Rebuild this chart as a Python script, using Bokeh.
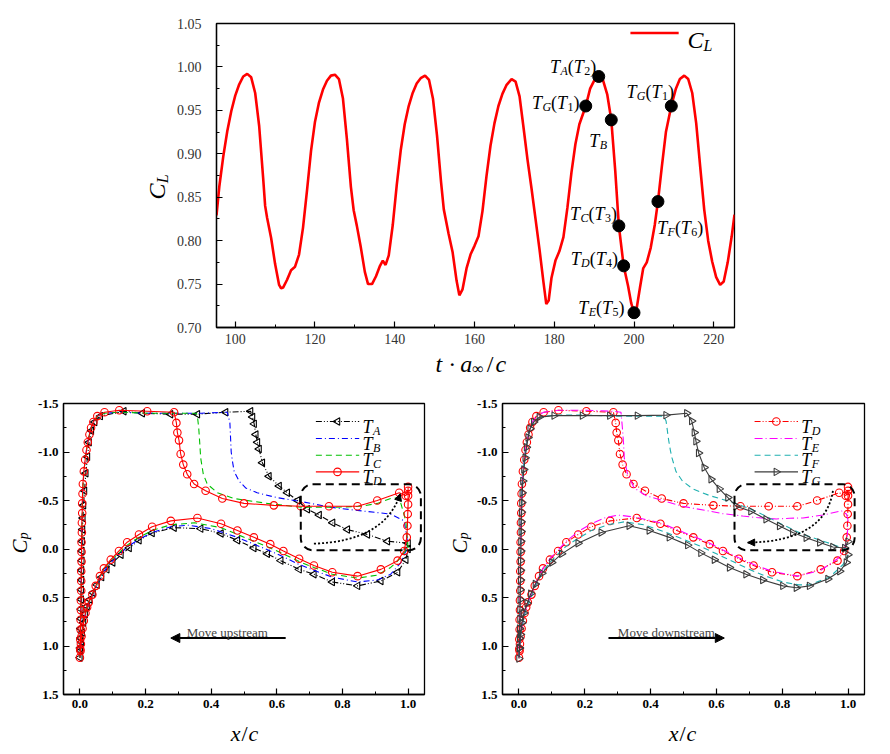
import math
from bokeh.plotting import figure
from bokeh.models import (Range1d, Label, Arrow, NormalHead, BoxAnnotation,
                          FixedTicker, NumeralTickFormatter)
from bokeh.layouts import column, row
from bokeh.embed import file_html
from bokeh.resources import INLINE

# ---------------- data: lift coefficient history ----------------
cl_t = [95.3, 96, 97, 98, 99, 100, 101, 102, 103, 104,
        105, 106, 107, 107.5, 108, 109, 110, 111, 111.5, 112,
        113, 114, 115, 116, 117, 118, 119, 120, 121, 122,
        123, 124, 125, 126, 127, 128, 129, 129.7, 130.5, 131.5,
        132.5, 133.3, 134.3, 135.3, 136.3, 137, 137.7, 138.5, 139.5, 140.5,
        141.5, 142.5, 143.5, 144.5, 145.5, 146.5, 147.6, 148.6, 149.6, 150.6,
        151.6, 152.3, 153.5, 154.5, 155.5, 156.2, 157, 158, 159, 160,
        161, 162, 163, 164, 165, 166, 167, 168, 169.3, 170.3,
        171.3, 172.3, 173.3, 174.3, 175.3, 176.3, 177.3, 178, 178.6, 179.3,
        180.3, 181.3, 182.3, 183.3, 184.3, 185.3, 186.3, 187.9, 189, 190.2,
        191.15, 192.2, 193.3, 194.3, 195.3, 196.2, 197.4, 198.5, 199.3, 200.0,
        200.7, 201.5, 202.3, 203.2, 204.2, 205.2, 206.0, 207, 208, 209.35,
        210.5, 211.5, 212.6, 213.6, 214.6, 215.6, 216.6, 217.6, 218.6, 219.6,
        220.6, 221.6, 222.5, 223.5, 224.5, 225.2]
cl_v = [0.829, 0.862, 0.897, 0.926, 0.949, 0.967, 0.980, 0.989, 0.992, 0.988,
        0.970, 0.932, 0.872, 0.840, 0.826, 0.803, 0.773, 0.749, 0.745, 0.746,
        0.755, 0.766, 0.770, 0.784, 0.815, 0.858, 0.903, 0.937, 0.959, 0.974,
        0.984, 0.990, 0.991, 0.986, 0.964, 0.917, 0.862, 0.835, 0.817, 0.792,
        0.764, 0.750, 0.750, 0.759, 0.771, 0.777, 0.772, 0.783, 0.818, 0.864,
        0.904, 0.934, 0.955, 0.970, 0.981, 0.987, 0.990, 0.985, 0.963, 0.921,
        0.868, 0.836, 0.808, 0.787, 0.754, 0.737, 0.744, 0.768, 0.784, 0.794,
        0.805, 0.834, 0.874, 0.909, 0.935, 0.955, 0.969, 0.979, 0.986, 0.983,
        0.966, 0.930, 0.893, 0.860, 0.825, 0.790, 0.752, 0.727, 0.731, 0.757,
        0.777, 0.788, 0.804, 0.838, 0.878, 0.911, 0.934, 0.955, 0.975, 0.986,
        0.989, 0.985, 0.968, 0.939, 0.880, 0.817, 0.771, 0.748, 0.728, 0.717,
        0.723, 0.746, 0.768, 0.775, 0.792, 0.818, 0.845, 0.886, 0.925, 0.955,
        0.975, 0.986, 0.990, 0.986, 0.970, 0.935, 0.885, 0.836, 0.800, 0.776,
        0.758, 0.749, 0.753, 0.775, 0.805, 0.830]

dot_t = [187.9, 191.15, 194.3, 196.2, 197.4, 200.0, 206.0, 209.35]
dot_cl = [0.955, 0.989, 0.939, 0.817, 0.771, 0.717, 0.845, 0.955]
dot_sub = ["G", "A", "B", "C", "D", "E", "F", "G"]
dot_num = ["1", "2", None, "3", "4", "5", "6", "1"]

top_xticks = [100, 120, 140, 160, 180, 200, 220]
top_xminor = [100, 110, 120, 130, 140, 150, 160, 170, 180, 190, 200, 210, 220]
top_yticks = [0.70, 0.75, 0.80, 0.85, 0.90, 0.95, 1.00, 1.05]
top_yminor = [0.725, 0.775, 0.825, 0.875, 0.925, 0.975, 1.025]

cp_xticks = [0.0, 0.2, 0.4, 0.6, 0.8, 1.0]
cp_xminor = [0.1, 0.3, 0.5, 0.7, 0.9]
cp_yticks = [-1.5, -1.0, -0.5, 0.0, 0.5, 1.0, 1.5]
cp_yminor = [-1.25, -0.75, -0.25, 0.25, 0.75, 1.25]

# ---------------- data: pressure distributions ----------------
# T_A
TA_up_x = [0.000, 0.001, 0.002, 0.002, 0.003, 0.003, 0.004, 0.004, 0.005, 0.005,
           0.006, 0.006, 0.007, 0.008, 0.009, 0.011, 0.014, 0.018, 0.023, 0.028,
           0.035, 0.045, 0.062, 0.134, 0.190, 0.276, 0.358, 0.444, 0.520, 0.526,
           0.531, 0.536, 0.541, 0.546, 0.556, 0.576, 0.607, 0.632, 0.663, 0.693,
           0.729, 0.770, 0.815, 0.876, 0.937, 1.000]
TA_up_cp = [1.12, 1.02, 0.92, 0.82, 0.72, 0.62, 0.52, 0.42, 0.32, 0.22,
            0.12, 0.02, -0.08, -0.20, -0.32, -0.45, -0.60, -0.78, -0.95, -1.10,
            -1.22, -1.31, -1.37, -1.42, -1.40, -1.39, -1.39, -1.41, -1.42, -1.36,
            -1.29, -1.18, -1.10, -1.03, -0.89, -0.75, -0.65, -0.58, -0.50, -0.41,
            -0.35, -0.27, -0.20, -0.15, -0.08, -0.06]
TA_lo_x = [0.002, 0.004, 0.007, 0.011, 0.016, 0.022, 0.030, 0.040, 0.052, 0.066,
           0.082, 0.100, 0.125, 0.150, 0.180, 0.220, 0.287, 0.368, 0.430, 0.480,
           0.530, 0.571, 0.612, 0.668, 0.713, 0.769, 0.846, 0.917, 0.968, 0.993,
           1.000]
TA_lo_cp = [1.05, 0.96, 0.86, 0.76, 0.67, 0.59, 0.52, 0.45, 0.37, 0.29,
            0.21, 0.14, 0.06, -0.01, -0.09, -0.165, -0.22, -0.21, -0.16, -0.09,
            -0.01, 0.05, 0.12, 0.21, 0.26, 0.34, 0.38, 0.33, 0.24, 0.11,
            0.00]
# T_B
TB_up_x = [0.000, 0.002, 0.004, 0.005, 0.007, 0.009, 0.012, 0.016, 0.020, 0.024,
           0.029, 0.034, 0.041, 0.053, 0.075, 0.120, 0.205, 0.287, 0.370, 0.449,
           0.453, 0.457, 0.459, 0.461, 0.465, 0.470, 0.485, 0.505, 0.540, 0.600,
           0.673, 0.764, 0.866, 0.947, 0.988, 0.998]
TB_up_cp = [1.12, 0.80, 0.40, 0.00, -0.35, -0.62, -0.79, -0.92, -1.02, -1.10,
            -1.18, -1.25, -1.31, -1.37, -1.40, -1.41, -1.40, -1.40, -1.40, -1.41,
            -1.36, -1.30, -1.15, -1.00, -0.90, -0.80, -0.70, -0.63, -0.58, -0.53,
            -0.49, -0.43, -0.39, -0.36, -0.29, -0.08]
TB_lo_x = [0.003, 0.008, 0.017, 0.027, 0.038, 0.048, 0.061, 0.073, 0.094, 0.119,
           0.144, 0.180, 0.220, 0.277, 0.330, 0.400, 0.480, 0.530, 0.580, 0.620,
           0.668, 0.713, 0.769, 0.846, 0.906, 0.947, 0.978, 0.996]
TB_lo_cp = [0.98, 0.82, 0.67, 0.56, 0.48, 0.40, 0.31, 0.23, 0.14, 0.06,
            -0.02, -0.10, -0.17, -0.23, -0.245, -0.21, -0.12, -0.05, 0.02, 0.08,
            0.16, 0.22, 0.29, 0.34, 0.32, 0.26, 0.14, 0.00]
# T_C
TC_up_x = [0.000, 0.002, 0.004, 0.005, 0.007, 0.009, 0.012, 0.016, 0.020, 0.024,
           0.029, 0.034, 0.041, 0.053, 0.075, 0.120, 0.205, 0.287, 0.355, 0.358,
           0.362, 0.365, 0.368, 0.376, 0.388, 0.419, 0.470, 0.571, 0.673, 0.774,
           0.856, 0.906, 0.947, 0.973, 0.993, 1.000]
TC_up_cp = [1.12, 0.80, 0.40, 0.00, -0.35, -0.62, -0.79, -0.92, -1.02, -1.10,
            -1.18, -1.25, -1.31, -1.37, -1.40, -1.41, -1.40, -1.40, -1.40, -1.37,
            -1.25, -1.10, -0.94, -0.77, -0.67, -0.58, -0.52, -0.47, -0.43, -0.43,
            -0.44, -0.47, -0.52, -0.53, -0.29, -0.01]
TC_lo_x = [0.003, 0.008, 0.017, 0.027, 0.038, 0.048, 0.061, 0.073, 0.094, 0.119,
           0.144, 0.180, 0.220, 0.277, 0.350, 0.430, 0.480, 0.530, 0.580, 0.620,
           0.668, 0.713, 0.769, 0.846, 0.906, 0.947, 0.978, 0.995]
TC_lo_cp = [0.98, 0.82, 0.66, 0.55, 0.47, 0.39, 0.29, 0.21, 0.12, 0.04,
            -0.04, -0.12, -0.19, -0.25, -0.27, -0.22, -0.15, -0.08, -0.01, 0.05,
            0.13, 0.19, 0.26, 0.30, 0.27, 0.19, 0.09, 0.00]
# T_D
TD_up_x = [0.000, 0.001, 0.001, 0.002, 0.002, 0.003, 0.003, 0.004, 0.004, 0.004,
           0.005, 0.005, 0.005, 0.006, 0.006, 0.007, 0.007, 0.008, 0.009, 0.012,
           0.016, 0.020, 0.024, 0.029, 0.034, 0.041, 0.053, 0.075, 0.120, 0.205,
           0.287, 0.294, 0.297, 0.302, 0.307, 0.315, 0.327, 0.348, 0.383, 0.434,
           0.500, 0.591, 0.673, 0.759, 0.846, 0.906, 0.973, 0.993, 1.000]
TD_up_cp = [1.12, 1.03, 0.93, 0.83, 0.73, 0.63, 0.53, 0.43, 0.33, 0.23,
            0.13, 0.03, -0.07, -0.17, -0.27, -0.37, -0.47, -0.57, -0.67, -0.80,
            -0.92, -1.02, -1.10, -1.18, -1.25, -1.31, -1.37, -1.41, -1.43, -1.42,
            -1.41, -1.30, -1.20, -1.12, -0.98, -0.87, -0.77, -0.67, -0.60, -0.52,
            -0.47, -0.45, -0.44, -0.44, -0.44, -0.50, -0.58, -0.55, -0.60]
TD_lo_x = [0.002, 0.003, 0.005, 0.008, 0.012, 0.017, 0.022, 0.027, 0.038, 0.048,
           0.061, 0.073, 0.094, 0.119, 0.144, 0.180, 0.220, 0.277, 0.358, 0.430,
           0.480, 0.530, 0.580, 0.620, 0.668, 0.713, 0.769, 0.846, 0.917, 0.968,
           0.988, 0.996, 0.998, 0.999, 1.000, 1.000, 1.000]
TD_lo_cp = [1.05, 0.98, 0.90, 0.82, 0.74, 0.66, 0.60, 0.55, 0.47, 0.38,
            0.28, 0.20, 0.11, 0.02, -0.07, -0.15, -0.23, -0.29, -0.32, -0.26,
            -0.19, -0.12, -0.05, 0.02, 0.10, 0.17, 0.24, 0.28, 0.21, 0.12,
            0.02, -0.12, -0.24, -0.36, -0.46, -0.55, -0.64]
# T_E
TE_up_x = [0.000, 0.002, 0.004, 0.005, 0.007, 0.009, 0.012, 0.016, 0.020, 0.024,
           0.029, 0.034, 0.041, 0.053, 0.075, 0.120, 0.205, 0.287, 0.310, 0.313,
           0.315, 0.318, 0.320, 0.325, 0.330, 0.340, 0.350, 0.386, 0.437, 0.497,
           0.579, 0.619, 0.680, 0.721, 0.782, 0.822, 0.863, 0.924, 0.980, 0.995,
           1.000]
TE_up_cp = [1.12, 0.80, 0.40, 0.00, -0.35, -0.62, -0.79, -0.92, -1.02, -1.10,
            -1.18, -1.25, -1.31, -1.37, -1.41, -1.43, -1.43, -1.42, -1.41, -1.30,
            -1.22, -1.08, -0.94, -0.85, -0.77, -0.70, -0.63, -0.55, -0.50, -0.44,
            -0.39, -0.365, -0.34, -0.324, -0.31, -0.317, -0.32, -0.35, -0.393, -0.36,
            -0.30]
TE_lo_x = [0.003, 0.008, 0.017, 0.027, 0.038, 0.048, 0.061, 0.073, 0.094, 0.119,
           0.144, 0.180, 0.220, 0.260, 0.300, 0.350, 0.430, 0.480, 0.530, 0.580,
           0.620, 0.668, 0.713, 0.769, 0.846, 0.917, 0.968, 0.990, 0.998, 1.000]
TE_lo_cp = [0.98, 0.82, 0.66, 0.55, 0.47, 0.38, 0.28, 0.20, 0.10, 0.01,
            -0.08, -0.18, -0.26, -0.32, -0.35, -0.33, -0.27, -0.20, -0.13, -0.06,
            0.01, 0.09, 0.16, 0.23, 0.28, 0.22, 0.10, 0.00, -0.15, -0.30]
# T_F
TF_up_x = [0.000, 0.002, 0.004, 0.005, 0.007, 0.009, 0.012, 0.016, 0.020, 0.024,
           0.029, 0.034, 0.041, 0.053, 0.075, 0.120, 0.205, 0.287, 0.370, 0.440,
           0.447, 0.451, 0.455, 0.460, 0.465, 0.477, 0.497, 0.528, 0.580, 0.650,
           0.720, 0.802, 0.863, 0.934, 0.985, 1.000]
TF_up_cp = [1.12, 0.80, 0.40, 0.00, -0.35, -0.62, -0.79, -0.92, -1.02, -1.10,
            -1.18, -1.24, -1.29, -1.34, -1.37, -1.38, -1.38, -1.37, -1.37, -1.37,
            -1.32, -1.22, -1.12, -1.02, -0.94, -0.80, -0.70, -0.62, -0.55, -0.48,
            -0.39, -0.25, -0.15, -0.07, -0.01, 0.00]
TF_lo_x = [0.003, 0.008, 0.017, 0.027, 0.038, 0.048, 0.061, 0.073, 0.094, 0.119,
           0.144, 0.180, 0.220, 0.270, 0.320, 0.380, 0.440, 0.500, 0.550, 0.600,
           0.650, 0.700, 0.750, 0.802, 0.850, 0.883, 0.944, 0.985, 1.000]
TF_lo_cp = [0.98, 0.83, 0.68, 0.57, 0.49, 0.40, 0.31, 0.23, 0.14, 0.05,
            -0.03, -0.11, -0.19, -0.25, -0.28, -0.25, -0.18, -0.10, -0.03, 0.05,
            0.13, 0.21, 0.28, 0.34, 0.37, 0.37, 0.29, 0.16, 0.06]
# T_G
TG_up_x = [0.000, 0.001, 0.002, 0.002, 0.003, 0.003, 0.004, 0.004, 0.005, 0.005,
           0.005, 0.006, 0.006, 0.007, 0.007, 0.008, 0.009, 0.010, 0.012, 0.015,
           0.019, 0.023, 0.028, 0.034, 0.045, 0.062, 0.107, 0.193, 0.276, 0.360,
           0.447, 0.510, 0.525, 0.533, 0.538, 0.546, 0.563, 0.584, 0.609, 0.635,
           0.660, 0.705, 0.751, 0.792, 0.832, 0.873, 0.914, 0.954, 0.990, 1.000]
TG_up_cp = [1.13, 1.02, 0.92, 0.82, 0.72, 0.62, 0.52, 0.42, 0.32, 0.22,
            0.12, 0.02, -0.08, -0.18, -0.28, -0.38, -0.48, -0.58, -0.70, -0.82,
            -0.94, -1.05, -1.15, -1.24, -1.31, -1.36, -1.375, -1.375, -1.375, -1.375,
            -1.38, -1.40, -1.32, -1.20, -1.11, -0.99, -0.84, -0.72, -0.62, -0.53,
            -0.44, -0.39, -0.307, -0.238, -0.169, -0.117, -0.066, -0.021, -0.01, -0.076]
TG_lo_x = [0.002, 0.005, 0.009, 0.015, 0.025, 0.036, 0.050, 0.070, 0.100, 0.130,
           0.180, 0.250, 0.335, 0.396, 0.457, 0.513, 0.553, 0.594, 0.640, 0.690,
           0.741, 0.802, 0.843, 0.883, 0.939, 0.975, 0.995, 1.000]
TG_lo_cp = [1.02, 0.88, 0.76, 0.66, 0.56, 0.46, 0.36, 0.25, 0.14, 0.05,
            -0.06, -0.17, -0.24, -0.19, -0.12, -0.04, 0.04, 0.11, 0.19, 0.26,
            0.32, 0.38, 0.40, 0.38, 0.31, 0.23, 0.14, 0.06]

# ---------------- helpers ----------------
SERIF = "Liberation Serif"
CW = {"T": 0.58, "A": 0.61, "B": 0.61, "C": 0.67, "D": 0.72, "E": 0.61, "F": 0.61,
      "G": 0.72, "L": 0.56, "(": 0.33, ")": 0.33, "t": 0.28, "a": 0.5, "x": 0.44,
      "c": 0.44, "p": 0.5, "/": 0.28, " ": 0.25, "\u00b7": 0.25, "\u221e": 0.72}


def text_w(s, size):
    return sum(CW.get(ch, 0.5) for ch in s) * size


def rich(p, x, y, parts, align="left", angle=0.0, color="black"):
    """parts: (text, size, drop, style) tuples or plain numbers (extra gap in px)."""
    widths = [pt if isinstance(pt, (int, float)) else text_w(pt[0], pt[1]) for pt in parts]
    total = sum(widths)
    pos = {"left": 0.0, "center": -total / 2.0, "right": -total}[align]
    for pt, w in zip(parts, widths):
        if not isinstance(pt, (int, float)):
            t, sz, dy, st = pt
            if angle == 0:
                xo, yo, base = pos, dy, "alphabetic"
            else:
                xo, yo, base = -dy, pos, "middle"
            p.add_layout(Label(x=x, y=y, text=t, x_offset=xo, y_offset=yo, angle=angle,
                               text_font=SERIF, text_font_size=f"{sz}px",
                               text_font_style=st, text_color=color,
                               text_align="left", text_baseline=base))
        pos += w


def t_label(sub, num=None, size=18, ssize=12):
    parts = [("T", size, 0, "italic"), (sub, ssize, -4, "italic")]
    if num is not None:
        parts += [("(", size, 0, "normal"), ("T", size, 0, "italic"),
                  (num, ssize, -4, "normal"), (")", size, 0, "normal")]
    return parts


def text_panel(w, h):
    """A blank figure used only to hold axis titles (pixel coordinates, y down)."""
    p = figure(width=w, height=h, x_range=Range1d(0, w), y_range=Range1d(h, 0),
               x_axis_type=None, y_axis_type=None, min_border=0,
               output_backend="svg", toolbar_location=None)
    p.outline_line_color = None
    p.background_fill_color = "white"
    p.border_fill_color = "white"
    p.xgrid.visible = False
    p.ygrid.visible = False
    return p


def style(p, size, bold, color):
    p.background_fill_color = "white"
    p.border_fill_color = "white"
    p.outline_line_color = "black"
    p.outline_line_width = 1.3
    p.outline_line_alpha = 1.0
    p.xgrid.visible = False
    p.ygrid.visible = False
    for ax in (p.xaxis[0], p.yaxis[0]):
        ax.axis_line_color = "black"
        ax.axis_line_width = 1.3
        ax.major_tick_in = 6
        ax.major_tick_out = 0
        ax.minor_tick_in = 3
        ax.minor_tick_out = 0
        ax.major_tick_line_color = "black"
        ax.minor_tick_line_color = "black"
        ax.major_tick_line_width = 1.2
        ax.minor_tick_line_width = 1.0
        ax.major_label_text_font = SERIF
        ax.major_label_text_font_size = size
        ax.major_label_text_font_style = "bold" if bold else "normal"
        ax.major_label_text_color = color


def loop(up_x, up_cp, lo_x, lo_cp):
    return up_x[::-1] + lo_x, up_cp[::-1] + lo_cp


# ---------------- top figure ----------------
top = figure(frame_width=518, frame_height=304,
             x_range=Range1d(95.3, 225.2), y_range=Range1d(0.70, 1.05),
             min_border_left=44, min_border_right=148,
             min_border_top=23, min_border_bottom=22,
             output_backend="svg", toolbar_location=None)
style(top, "14px", False, "#333333")
top.xaxis.ticker = FixedTicker(ticks=top_xticks, minor_ticks=top_xminor)
top.yaxis.ticker = FixedTicker(ticks=top_yticks, minor_ticks=top_yminor)
top.yaxis.formatter = NumeralTickFormatter(format="0.00")
top.xaxis.major_label_standoff = 6
top.yaxis.major_label_standoff = 15

top.line(cl_t, cl_v, color="red", line_width=2.6)
top.scatter(dot_t, dot_cl, size=12, color="black")

# point labels: (x, baseline y, alignment)
label_pos = [(186.3, 0.959, "right"), (190.5, 1.000, "right"), (188.8, 0.915, "left"),
             (195.7, 0.8306, "right"), (196.0, 0.7787, "right"), (197.6, 0.723, "right"),
             (205.8, 0.815, "left"), (198.1, 0.9706, "left")]
for (lx, ly, al), s, n in zip(label_pos, dot_sub, dot_num):
    rich(top, lx, ly, t_label(s, n), align=al)

# legend of the top plot
top.line([199.1, 211.2], [1.039, 1.039], color="red", line_width=2.6)
rich(top, 213.4, 1.031, [("C", 24, 0, "italic"), ("L", 16, -5, "italic")])

# axis titles of the top plot
top_ylab = text_panel(172, 349)
rich(top_ylab, 156, 202, [("C", 24, 0, "italic"), ("L", 16, -6, "italic")], angle=math.pi / 2)
top_xlab = text_panel(882, 39)
rich(top_xlab, 435, 14, [("t", 24, 0, "italic"), 6, ("\u00b7", 24, 0, "normal"), 6,
                         ("a", 24, 0, "italic"), ("\u221e", 16, -5, "normal"), 3,
                         ("/", 24, 0, "normal"), 2, ("c", 24, 0, "italic")])


# ---------------- bottom figures ----------------
def cp_fig(bl, fw, br):
    p = figure(frame_width=fw, frame_height=291,
               x_range=Range1d(-0.05, 1.05), y_range=Range1d(1.5, -1.5),
               min_border_left=bl, min_border_right=br,
               min_border_top=15, min_border_bottom=22,
               output_backend="svg", toolbar_location=None)
    style(p, "13px", True, "black")
    p.xaxis.ticker = FixedTicker(ticks=cp_xticks, minor_ticks=cp_xminor)
    p.yaxis.ticker = FixedTicker(ticks=cp_yticks, minor_ticks=cp_yminor)
    p.xaxis.formatter = NumeralTickFormatter(format="0.0")
    p.yaxis.formatter = NumeralTickFormatter(format="0.0")
    p.xaxis.major_label_standoff = 5
    p.yaxis.major_label_standoff = 5
    return p


def draw(p, xs, ys, color, dash, marker=None, angle=0.0):
    p.line(xs, ys, color=color, line_width=1.1, line_dash=dash)
    if marker:
        p.scatter(xs, ys, marker=marker, angle=angle, size=7.5, line_color=color,
                  fill_color=None, line_width=1.1)


def legend(p, x0, x1, xt, ys, entries):
    for y, (sub, color, dash, marker, angle) in zip(ys, entries):
        p.line([x0, x1], [y, y], color=color, line_width=1.1, line_dash=dash)
        if marker:
            p.scatter([(x0 + x1) / 2.0], [y], marker=marker, angle=angle, size=7.5,
                      line_color=color, fill_color=None, line_width=1.1)
        rich(p, xt, y + 0.052, t_label(sub, size=18, ssize=12))


legend_y = [-1.314, -1.139, -0.967, -0.795]
HEAD_KW = dict(size=9, fill_color="black", line_color="black")
BOX_KW = dict(top=-0.668, bottom=0.013, fill_alpha=0, line_color="black", line_alpha=1.0,
              line_width=2, line_dash="8 5", border_radius=12)

# left: T_A .. T_D
bl = cp_fig(29, 361, 21)
left_curves = [
    (TA_up_x, TA_up_cp, TA_lo_x, TA_lo_cp, "A", "black", "6 2 1 2 1 2", "triangle", math.pi / 2),
    (TB_up_x, TB_up_cp, TB_lo_x, TB_lo_cp, "B", "#0000ff", "6 3 1 3", None, 0.0),
    (TC_up_x, TC_up_cp, TC_lo_x, TC_lo_cp, "C", "#00c000", "6 4", None, 0.0),
    (TD_up_x, TD_up_cp, TD_lo_x, TD_lo_cp, "D", "#ff0000", "solid", "circle", 0.0),
]
for ux, uc, lx, lc, s, col, dash, mk, ang in left_curves:
    xs, ys = loop(ux, uc, lx, lc)
    draw(bl, xs, ys, col, dash, mk, ang)
legend(bl, 0.719, 0.851, 0.861, legend_y, [(c[4], c[5], c[6], c[7], c[8]) for c in left_curves])
bl.add_layout(BoxAnnotation(left=0.673, right=1.039, **BOX_KW))
bl.quadratic(x0=[0.713], y0=[-0.055], x1=[0.976], y1=[-0.57], cx=[0.93], cy=[-0.08],
             line_color="black", line_width=1.8, line_dash="2 2")
bl.add_layout(Arrow(end=NormalHead(size=7, fill_color="black", line_color="black"),
                    x_start=0.9714, y_start=-0.521, x_end=0.976, y_end=-0.57,
                    line_color=None))
bl.add_layout(Arrow(end=NormalHead(**HEAD_KW), x_start=0.627, y_start=0.918,
                    x_end=0.277, y_end=0.918, line_width=2, line_color="black"))
bl.add_layout(Label(x=0.449, y=0.856, text="Move upstream", text_font=SERIF,
                    text_font_size="13px", text_align="center", text_baseline="alphabetic"))

# right: T_D .. T_G
br = cp_fig(27, 362, 20)
right_curves = [
    (TD_up_x, TD_up_cp, TD_lo_x, TD_lo_cp, "D", "#ff0000", "6 2 1 2 1 2", "circle", 0.0),
    (TE_up_x, TE_up_cp, TE_lo_x, TE_lo_cp, "E", "#ff00ff", "8 3 1 3", None, 0.0),
    (TF_up_x, TF_up_cp, TF_lo_x, TF_lo_cp, "F", "#1fb0b0", "6 4", None, 0.0),
    (TG_up_x, TG_up_cp, TG_lo_x, TG_lo_cp, "G", "#3c3c3c", "solid", "triangle", -math.pi / 2),
]
for ux, uc, lx, lc, s, col, dash, mk, ang in right_curves:
    xs, ys = loop(ux, uc, lx, lc)
    draw(br, xs, ys, col, dash, mk, ang)
legend(br, 0.716, 0.848, 0.858, legend_y, [(c[4], c[5], c[6], c[7], c[8]) for c in right_curves])
br.add_layout(BoxAnnotation(left=0.655, right=1.02, **BOX_KW))
br.quadratic(x0=[0.954], y0=[-0.60], x1=[0.695], y1=[-0.066], cx=[0.93], cy=[-0.08],
             line_color="black", line_width=1.8, line_dash="2 2")
br.add_layout(Arrow(end=NormalHead(size=7, fill_color="black", line_color="black"),
                    x_start=0.730, y_start=-0.068, x_end=0.695, y_end=-0.066,
                    line_color=None))
br.add_layout(Arrow(end=NormalHead(**HEAD_KW), x_start=0.272, y_start=0.918,
                    x_end=0.624, y_end=0.918, line_width=2, line_color="black"))
br.add_layout(Label(x=0.448, y=0.856, text="Move downstream", text_font=SERIF,
                    text_font_size="13px", text_align="center", text_baseline="alphabetic"))

# axis-title panels of the bottom figures
CP_PARTS = [("C", 21, 0, "italic"), ("p", 14, -4, "italic")]
XC_PARTS = [("x", 22, 0, "italic"), 1, ("/", 22, 0, "normal"), 1, ("c", 22, 0, "italic")]
bl_ylab = text_panel(34, 328)
rich(bl_ylab, 19, 169, CP_PARTS, angle=math.pi / 2)
bl_xlab = text_panel(445, 36)
rich(bl_xlab, 244, 17, XC_PARTS, align="center")
br_ylab = text_panel(28, 328)
rich(br_ylab, 14, 169, CP_PARTS, angle=math.pi / 2)
br_xlab = text_panel(437, 36)
rich(br_xlab, 237, 17, XC_PARTS, align="center")

layout = column(
    column(row(top_ylab, top), top_xlab),
    row(column(row(bl_ylab, bl), bl_xlab), column(row(br_ylab, br), br_xlab)),
)
open("out.html", "w").write(file_html(layout, INLINE))
